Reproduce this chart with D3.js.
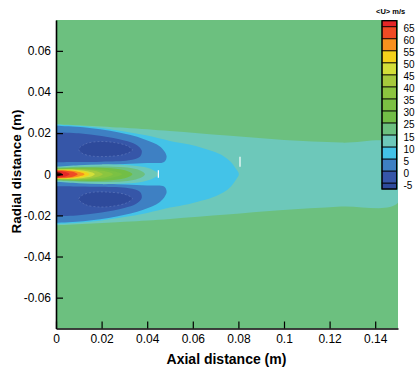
<!DOCTYPE html>
<html><head><meta charset="utf-8">
<script src="https://cdn.jsdelivr.net/npm/d3@7"></script>
<style>
body{margin:0;background:#fff}
svg{display:block}
text{font-family:"Liberation Sans",Arial,sans-serif;fill:#000}
</style>
</head><body>
<svg id="chart" width="420" height="372"></svg>
<script>
// ---------------- data (metres, m/s) ----------------
const xTicks = [0, 0.02, 0.04, 0.06, 0.08, 0.1, 0.12, 0.14];
const xTickLabels = ["0", "0.02", "0.04", "0.06", "0.08", "0.1", "0.12", "0.14"];
const yTicks = [-0.06, -0.04, -0.02, 0, 0.02, 0.04, 0.06];
const yTickLabels = ["-0.06", "-0.04", "-0.02", "0", "0.02", "0.04", "0.06"];
const levelLabels = ["-5", "0", "5", "10", "15", "25", "30", "35", "40", "45", "50", "55", "60", "65"]; // bottom -> top
const bandColors = ["#2e4a9b", "#3656a8", "#3e80c3", "#43c3e8", "#6dc8ba", "#6cc07f",
                    "#72be46", "#7bc143", "#8bc53f", "#a6ca3c", "#d3df39", "#f3d31b",
                    "#f7911e", "#ef4b24", "#e42727"];

// contour lines: [axial, radial]
const jetEdgeUpper = [[0,0.0244],[0.03,0.0226],[0.05,0.021],[0.075,0.0188],[0.1,0.0167],[0.125,0.0154],[0.15,0.0141]];
const jetEdgeLower = [[0,-0.0249],[0.03,-0.0231],[0.05,-0.0217],[0.075,-0.0196],[0.098,-0.0175],[0.125,-0.0157],[0.15,-0.0139]];
const u10Upper = [[0,0.0243],[0.01,0.0236],[0.02,0.0225],[0.03,0.0208],[0.04,0.0188],[0.05,0.0162],[0.058,0.0146],[0.0645,0.0127],[0.07,0.0107],[0.0735,0.0088],[0.0765,0.0062],[0.079,0.0025],[0.0802,0]];
const u5LobeOuter = [[0,0.0236],[0.012,0.0228],[0.0266,0.0205],[0.0383,0.0172],[0.0456,0.0135],[0.0485,0.0088]];
const u5LobeInner = [[0.0474,0.006],[0.04,0.0055],[0.03,0.005],[0.016,0.0042],[0,0.0034]];
const u0LobeOuter = [[0,0.0205],[0.01,0.0199],[0.02,0.0186],[0.03,0.0164],[0.035,0.0145],[0.0376,0.0115]];
const u0LobeInner = [[0.0368,0.0085],[0.032,0.0068],[0.02,0.0061],[0.01,0.0059],[0,0.0058]];
const uNeg5Ring = [[0.0100,0.0122],[0.013,0.0148],[0.019,0.0159],[0.025,0.0155],[0.031,0.0139],[0.0335,0.0118],[0.03,0.0097],[0.023,0.0087],[0.016,0.0088],[0.0115,0.0102]];
// core contours (upper half; level band index -> colour)
const coreContours = [
  {band: 4,  pts: [[0,0.0036],[0.01,0.0044],[0.02,0.0048],[0.03,0.0045],[0.038,0.0036],[0.0425,0.0021],[0.045,0]]},
  {band: 5,  pts: [[0,0.0031],[0.01,0.0036],[0.02,0.0038],[0.03,0.0034],[0.035,0.0025],[0.038,0.0012],[0.039,0]]},
  {band: 6,  pts: [[0,0.0028],[0.01,0.0032],[0.02,0.0031],[0.028,0.0024],[0.032,0.0012],[0.0335,0]]},
  {band: 7,  pts: [[0,0.0026],[0.01,0.0029],[0.02,0.0026],[0.025,0.0016],[0.029,0]]},
  {band: 8,  pts: [[0,0.0025],[0.01,0.0027],[0.018,0.0021],[0.023,0.0011],[0.025,0]]},
  {band: 9,  pts: [[0,0.0023],[0.008,0.0025],[0.015,0.0019],[0.019,0.001],[0.0205,0]]},
  {band: 10, pts: [[0,0.0022],[0.008,0.0022],[0.013,0.0016],[0.016,0.0008],[0.017,0]]},
  {band: 11, pts: [[0,0.002],[0.007,0.002],[0.012,0.0013],[0.014,0.0006],[0.0146,0]]},
  {band: 12, pts: [[0,0.0019],[0.006,0.0018],[0.01,0.0011],[0.0122,0.0004],[0.0125,0]]},
  {band: 13, pts: [[0,0.0018],[0.005,0.0016],[0.008,0.001],[0.0095,0]]},
  {band: 14, pts: [[0,0.0016],[0.003,0.0013],[0.005,0.0007],[0.006,0]]}
];
const coreDark = [[0,0.0009],[0.0015,0.0008],[0.0028,0]];
const artifactMarks = [[0.0807,0.0037,0.0085],[0.0449,-0.0017,0.002]];

// ---------------- layout ----------------
const svg = d3.select("#chart");
const x = d3.scaleLinear().domain([0, 0.15]).range([56, 398]);
const y = d3.scaleLinear().domain([-0.075, 0.075]).range([328.5, 20]);

svg.append("defs").append("clipPath").attr("id","plotclip")
  .append("rect").attr("x",56).attr("y",20).attr("width",342).attr("height",308.5);

const plot = svg.append("g").attr("clip-path","url(#plotclip)");
const line = d3.line().x(d=>x(d[0])).y(d=>y(d[1])).curve(d3.curveCatmullRom.alpha(0.5));
const ring = d3.line().x(d=>x(d[0])).y(d=>y(d[1])).curve(d3.curveCatmullRomClosed.alpha(0.5));
const mirror = pts => pts.map(([a,r]) => [a,-r]);
const symShape = up => up.concat(mirror(up.slice(0,-1)).reverse());
const extendLeft = pts => pts.map(([a,r]) => [a === 0 ? -0.001 : a, r]);

// background band (15-25)
plot.append("rect").attr("x",56).attr("y",20).attr("width",342).attr("height",308.5).attr("fill",bandColors[5]);
// jet edge (10-15)
plot.append("path").attr("d", line(extendLeft(jetEdgeUpper.concat(jetEdgeLower.slice().reverse()))) + "Z")
  .attr("fill", bandColors[4]);
// 5-10 region
plot.append("path").attr("d", line(extendLeft(symShape(u10Upper))) + "Z").attr("fill", bandColors[3]);
// lobes
[1,-1].forEach(s => {
  const f = pts => pts.map(([a,r]) => [a, s*r]);
  plot.append("path").attr("d", line(extendLeft(f(u5LobeOuter.concat(u5LobeInner)))) + "Z").attr("fill", bandColors[2]);
  plot.append("path").attr("d", line(extendLeft(f(u0LobeOuter.concat(u0LobeInner)))) + "Z").attr("fill", bandColors[1]);
  plot.append("path").attr("d", ring(f(uNeg5Ring))).attr("fill", bandColors[0])
    .attr("stroke","#6f86c4").attr("stroke-width",0.5).attr("stroke-dasharray","2,2");
});
// core
coreContours.forEach(c => {
  plot.append("path").attr("d", line(extendLeft(symShape(c.pts))) + "Z").attr("fill", bandColors[c.band]);
});
plot.append("path").attr("d", line(extendLeft(symShape(coreDark))) + "Z").attr("fill", "#3a0a0a");
// small white marks
artifactMarks.forEach(m => {
  plot.append("line").attr("x1",x(m[0])).attr("x2",x(m[0])).attr("y1",y(m[1])).attr("y2",y(m[2]))
    .attr("stroke","#fff").attr("stroke-width",1.2);
});

// ---------------- axes ----------------
const minorX = d3.range(0, 0.1501, 0.005);
const minorY = d3.range(-0.075, 0.0751, 0.005);
const gx = svg.append("g").attr("transform", `translate(0,${y(-0.075)})`);
gx.call(d3.axisBottom(x).tickValues(minorX).tickSize(-4).tickFormat("").tickSizeOuter(0));
gx.call(d3.axisBottom(x).tickValues(xTicks).tickFormat((d,i)=>xTickLabels[i]).tickSize(-7).tickPadding(6).tickSizeOuter(0));
const gy = svg.append("g").attr("transform", `translate(${x(0)},0)`);
gy.call(d3.axisLeft(y).tickValues(minorY).tickSize(-4).tickFormat("").tickSizeOuter(0));
gy.call(d3.axisLeft(y).tickValues(yTicks).tickFormat((d,i)=>yTickLabels[i]).tickSize(-7).tickPadding(5).tickSizeOuter(0));
svg.selectAll(".domain").attr("stroke","#000").attr("stroke-width",1.6);
svg.selectAll(".tick line").attr("stroke","#000").attr("stroke-width",1.2);
svg.selectAll(".tick text").style("font-size","12px").style("font-family",'"Liberation Sans",Arial,sans-serif').attr("fill","#000");

svg.append("text").attr("x",226.5).attr("y",363.5).attr("text-anchor","middle")
  .style("font-size","14px").style("font-weight","bold").text("Axial distance (m)");
svg.append("text").attr("transform","translate(21,171.5) rotate(-90)").attr("text-anchor","middle")
  .style("font-size","13.5px").style("font-weight","bold").text("Radial distance (m)");

// ---------------- colour bar ----------------
const cb = d3.scaleLinear().domain([0, levelLabels.length - 1]).range([183, 26.7]);
const cbX = 382, cbW = 14.7;
const cbg = svg.append("g");
bandColors.forEach((c, i) => {
  const lo = i === 0 ? -0.5 : i - 1;
  const hi = i === bandColors.length - 1 ? levelLabels.length - 0.5 : i;
  cbg.append("rect").attr("x", cbX).attr("y", cb(hi)).attr("width", cbW).attr("height", cb(lo) - cb(hi))
    .attr("fill", c).attr("stroke", "#000").attr("stroke-width", 0.8);
});
cbg.append("rect").attr("x", cbX).attr("y", cb(levelLabels.length - 0.5)).attr("width", cbW)
  .attr("height", cb(-0.5) - cb(levelLabels.length - 0.5)).attr("fill","none").attr("stroke","#000").attr("stroke-width",1.2);
levelLabels.forEach((l, i) => {
  cbg.append("text").attr("x", 403.5).attr("y", cb(i) + 5.6).style("font-size","10px").text(l);
});
svg.append("text").attr("x",376).attr("y",14).style("font-size","7.5px").style("font-weight","bold").text("<U> m/s");
</script>
</body></html>
